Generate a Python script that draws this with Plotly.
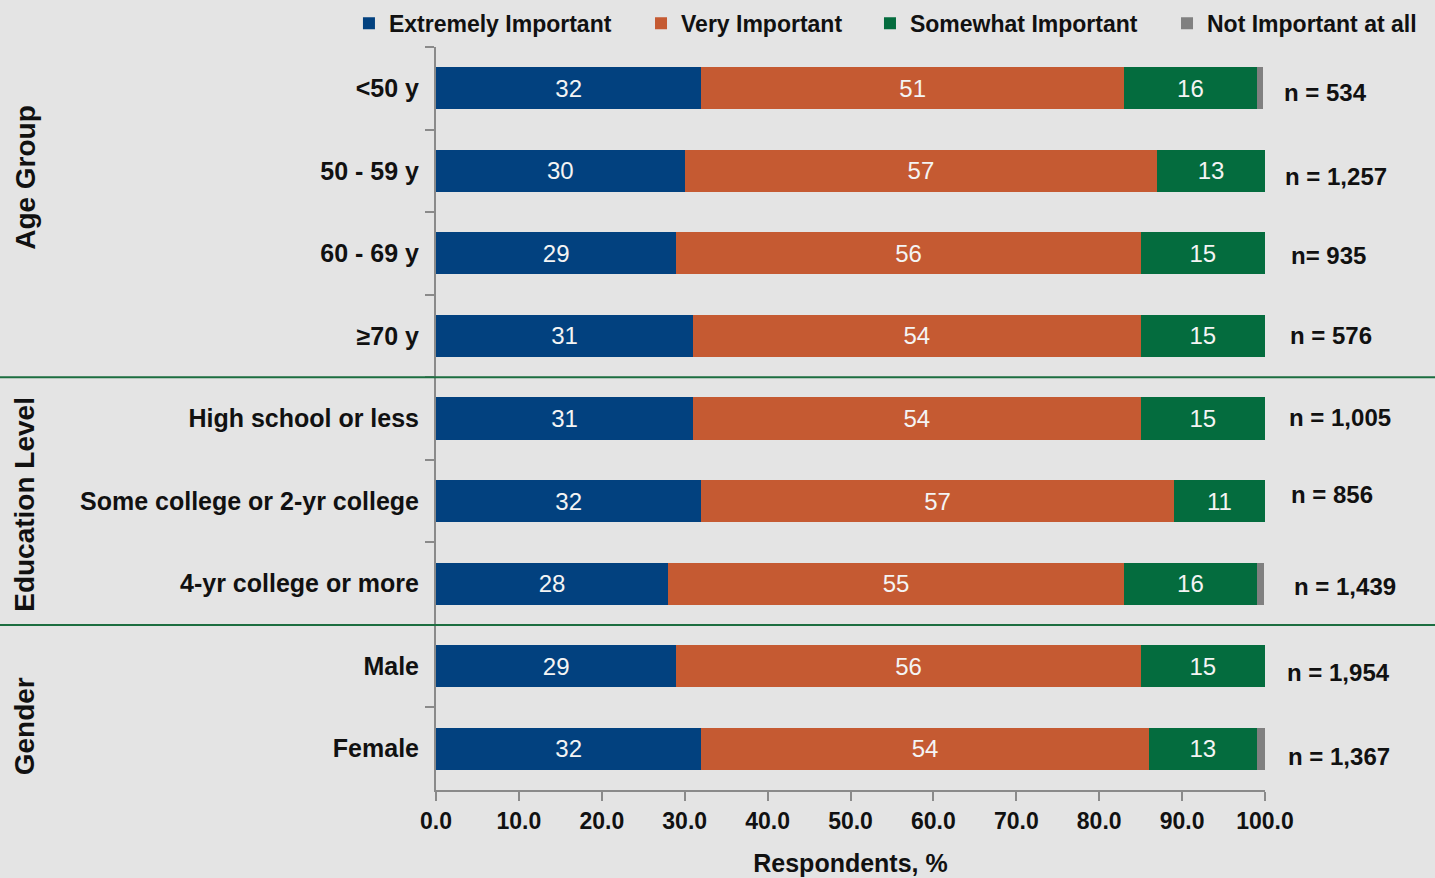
import plotly.graph_objects as go

# Survey categories, top to bottom
categories = ["<50 y", "50 - 59 y", "60 - 69 y", "\u226570 y",
              "High school or less", "Some college or 2-yr college", "4-yr college or more",
              "Male", "Female"]

extremely = [32, 30, 29, 31, 31, 32, 28, 29, 32]
very = [51, 57, 56, 54, 54, 57, 55, 56, 54]
somewhat = [16, 13, 15, 15, 15, 11, 16, 15, 13]
not_at_all = [0.8, 0.3, 0.0, 0.4, 0.0, 0.0, 0.9, 0.5, 1.0]

sample_sizes = ["n = 534", "n = 1,257", "n= 935", "n = 576", "n = 1,005",
                "n = 856", "n = 1,439", "n = 1,954", "n = 1,367"]

groups = ["Age Group", "Education Level", "Gender"]

series_names = ["Extremely Important", "Very Important", "Somewhat Important", "Not Important at all"]
colors = ["#02417f", "#c55a32", "#046c3e", "#808080"]

BG = "#e4e4e4"
LABEL_FONT = "Liberation Sans, Arial, sans-serif"
BAR_FONT = "Liberation Sans, Arial, sans-serif"

# each series gets its own legend box so the entries sit where they should
legend_ids = ["legend", "legend2", "legend3", "legend4"]
legend_x = [-0.105, 0.2473, 0.5235, 0.8818]

fig = go.Figure()
for name, vals, col, lid in zip(series_names, [extremely, very, somewhat, not_at_all], colors, legend_ids):
    show_text = name != "Not Important at all"
    fig.add_trace(go.Bar(
        y=categories, x=vals, name=name, orientation="h", legend=lid,
        marker=dict(color=col, line=dict(width=0)),
        text=[f"{v:g}" for v in vals] if show_text else None,
        textposition="inside" if show_text else "none",
        insidetextanchor="middle",
        textangle=0,
        textfont=dict(color="#f4f4f4", size=24, family=BAR_FONT),
        constraintext="none",
        hoverinfo="skip",
    ))

# n labels to the right of each bar (small per-row nudges)
label_nudges = [(0, -4), (1, -6), (7, -2), (6, 0), (5, 1), (7, 7), (10, -3), (3, -6), (4, -8)]
annotations = []
for cat, txt, (dx, dy) in zip(categories, sample_sizes, label_nudges):
    annotations.append(dict(
        x=1.0, xref="paper", y=cat, yref="y", xanchor="left", yanchor="middle",
        xshift=17 + dx, yshift=dy, text=f"<b>{txt}</b>", showarrow=False,
        font=dict(size=24, color="#111111", family=LABEL_FONT),
    ))

# rotated group titles at the left edge
group_y = [0.825, 0.385, 0.0855]
for g, gy in zip(groups, group_y):
    annotations.append(dict(
        x=-0.496, xref="paper", y=gy, yref="paper", text=f"<b>{g}</b>",
        textangle=-90, showarrow=False, xanchor="center", yanchor="middle",
        font=dict(size=28, color="#111111", family=LABEL_FONT),
    ))

# separators between groups, spanning the full width
shapes = []
for yb in [3.5, 6.5]:
    shapes.append(dict(type="line", xref="paper", x0=-0.53, x1=1.21, yref="y", y0=yb, y1=yb,
                       line=dict(color="#1c6e40", width=2)))

legend_style = dict(orientation="h", y=1.032, yanchor="middle", xanchor="left",
                    font=dict(size=23, color="#111111", family=LABEL_FONT, weight="bold"),
                    bgcolor="rgba(0,0,0,0)", itemwidth=30)
legends = {lid: dict(legend_style, x=lx) for lid, lx in zip(legend_ids, legend_x)}

fig.update_layout(
    width=1435, height=878,
    margin=dict(l=436, r=170, t=47, b=88, autoexpand=False),
    paper_bgcolor=BG, plot_bgcolor=BG,
    barmode="stack", bargap=0.49,
    showlegend=True,
    annotations=annotations,
    shapes=shapes,
    xaxis=dict(range=[0, 100], dtick=10, tickformat=".1f", showgrid=False, zeroline=False,
               showline=True, linecolor="#8a8a8a", linewidth=2,
               ticks="outside", ticklen=9, tickwidth=2, tickcolor="#8a8a8a",
               tickfont=dict(size=23, color="#111111", family=LABEL_FONT, weight="bold"),
               title=dict(text="<b>Respondents, %</b>", standoff=22,
                          font=dict(size=25, color="#111111", family=LABEL_FONT))),
    yaxis=dict(categoryorder="array", categoryarray=categories, autorange="reversed",
               showgrid=False, zeroline=False, showline=True, linecolor="#8a8a8a", linewidth=2,
               ticks="outside", tickson="boundaries", ticklen=9, tickwidth=2, tickcolor="#8a8a8a",
               ticklabelstandoff=10,
               tickfont=dict(size=25, color="#111111", family=LABEL_FONT, weight="bold")),
    **legends,
)

fig.write_html("out.html")
